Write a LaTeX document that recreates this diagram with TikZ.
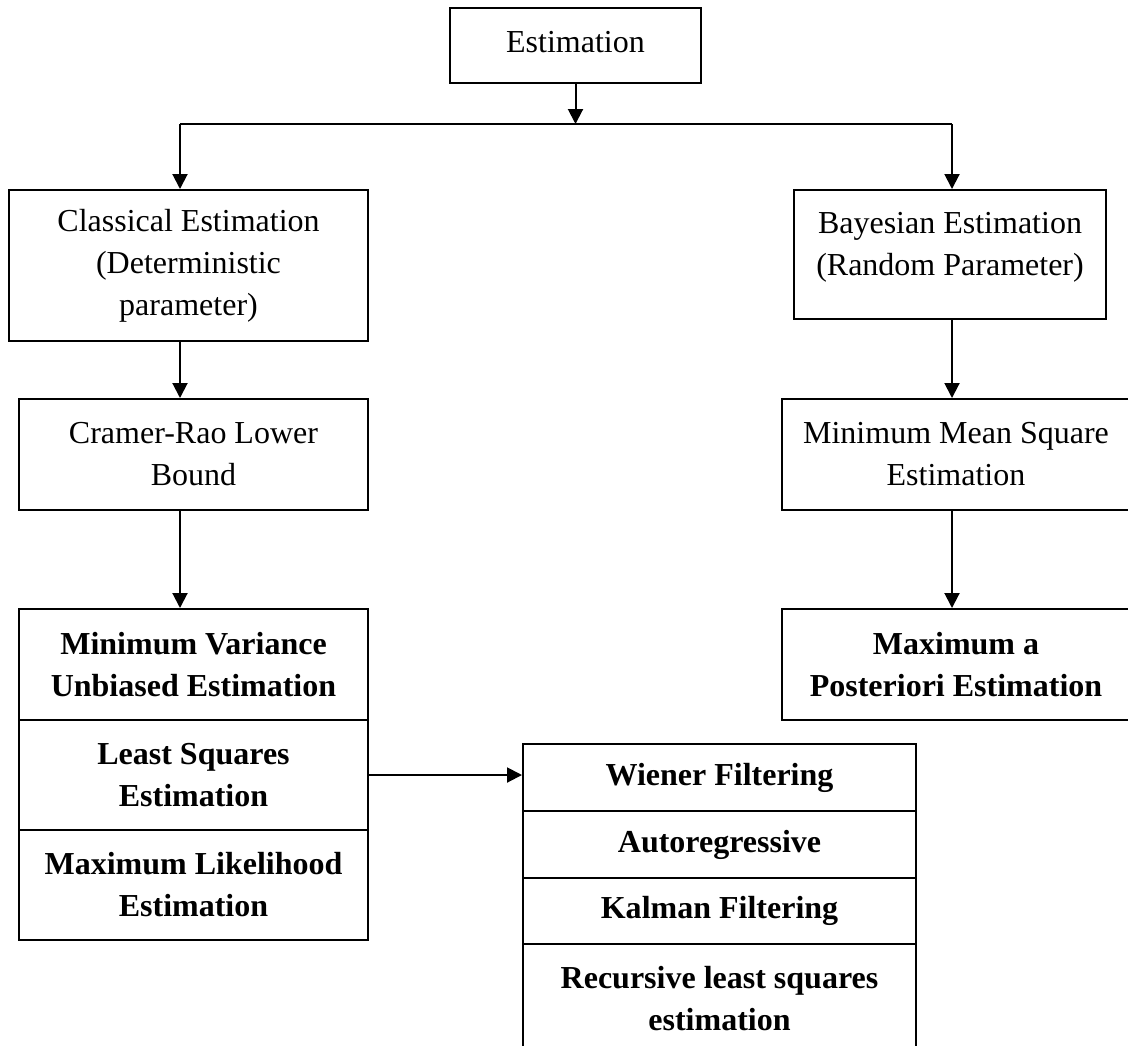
\documentclass[tikz,border=0pt]{standalone}
\usepackage{fontspec}
\setmainfont{Liberation Serif}
\usetikzlibrary{arrows.meta, calc}

\tikzset{
  estbox/.style={draw, line width=1pt, align=center, inner sep=0pt, font=\fontsize{16}{21}\selectfont},
  boldbox/.style={estbox, font=\fontsize{16}{21}\selectfont\bfseries}
}

\begin{document}
\begin{tikzpicture}[x=0.5pt, y=-0.5pt, >={Triangle[length=7.5pt, width=7.5pt]}, line width=1pt]
  \useasboundingbox (0,0) rectangle (1128,1045);
  \node[estbox, minimum width=125.5pt, minimum height=37.5pt, text depth=4pt] (estimation) at (575.5,45.5) {Estimation};
  \node[estbox, minimum width=179.5pt, minimum height=75.5pt] (classical) at (188.5,265.5) {Classical Estimation\\(Deterministic\\parameter)};
  \node[estbox, minimum width=156pt, minimum height=64.5pt, text depth=11pt] (bayesian) at (950,254.5) {Bayesian Estimation\\(Random Parameter)};
  \node[estbox, minimum width=174.5pt, minimum height=55.5pt] (cramerRao) at (193.5,454.5) {Cramer-Rao Lower\\Bound};
  \node[estbox, minimum width=174pt, minimum height=55.5pt] (mmse) at (956,454.5) {Minimum Mean Square\\Estimation};
  \node[boldbox, minimum width=174pt, minimum height=55.5pt] (map) at (956,664.5) {Maximum a\\Posteriori Estimation};
  \node[boldbox, minimum width=174.5pt, minimum height=55.5pt] (mvue) at (193.5,664.5) {Minimum Variance\\Unbiased Estimation};
  \node[boldbox, minimum width=174.5pt, minimum height=55pt] (leastSq) at (193.5,775) {Least Squares\\Estimation};
  \node[boldbox, minimum width=174.5pt, minimum height=55pt] (mle) at (193.5,885) {Maximum Likelihood\\Estimation};
  \node[boldbox, minimum width=196.5pt, minimum height=33.5pt] (wiener) at (719.5,777.5) {Wiener Filtering};
  \node[boldbox, minimum width=196.5pt, minimum height=33.5pt] (autoReg) at (719.5,844.5) {Autoregressive};
  \node[boldbox, minimum width=196.5pt, minimum height=33pt] (kalman) at (719.5,911) {Kalman Filtering};
  \node[boldbox, minimum width=196.5pt, minimum height=55pt] (rls) at (719.5,999) {Recursive least squares\\estimation};
  \coordinate (hubL) at (180,124);
  \coordinate (hubM) at (estimation.south |- hubL);
  \coordinate (hubR) at (952,124);
  \draw[->] (estimation) -- (hubM);
  \draw (hubL) -- (hubR);
  \draw[->] (hubL) -- (hubL |- classical.north);
  \draw[->] (hubR) -- (hubR |- bayesian.north);
  \draw[->] (hubL |- classical.south) -- (hubL |- cramerRao.north);
  \draw[->] (hubL |- cramerRao.south) -- (hubL |- mvue.north);
  \draw[->] (hubR |- bayesian.south) -- (hubR |- mmse.north);
  \draw[->] (hubR |- mmse.south) -- (hubR |- map.north);
  \draw[->] (leastSq.east) -- (leastSq.east -| wiener.west);
\end{tikzpicture}
\end{document}
